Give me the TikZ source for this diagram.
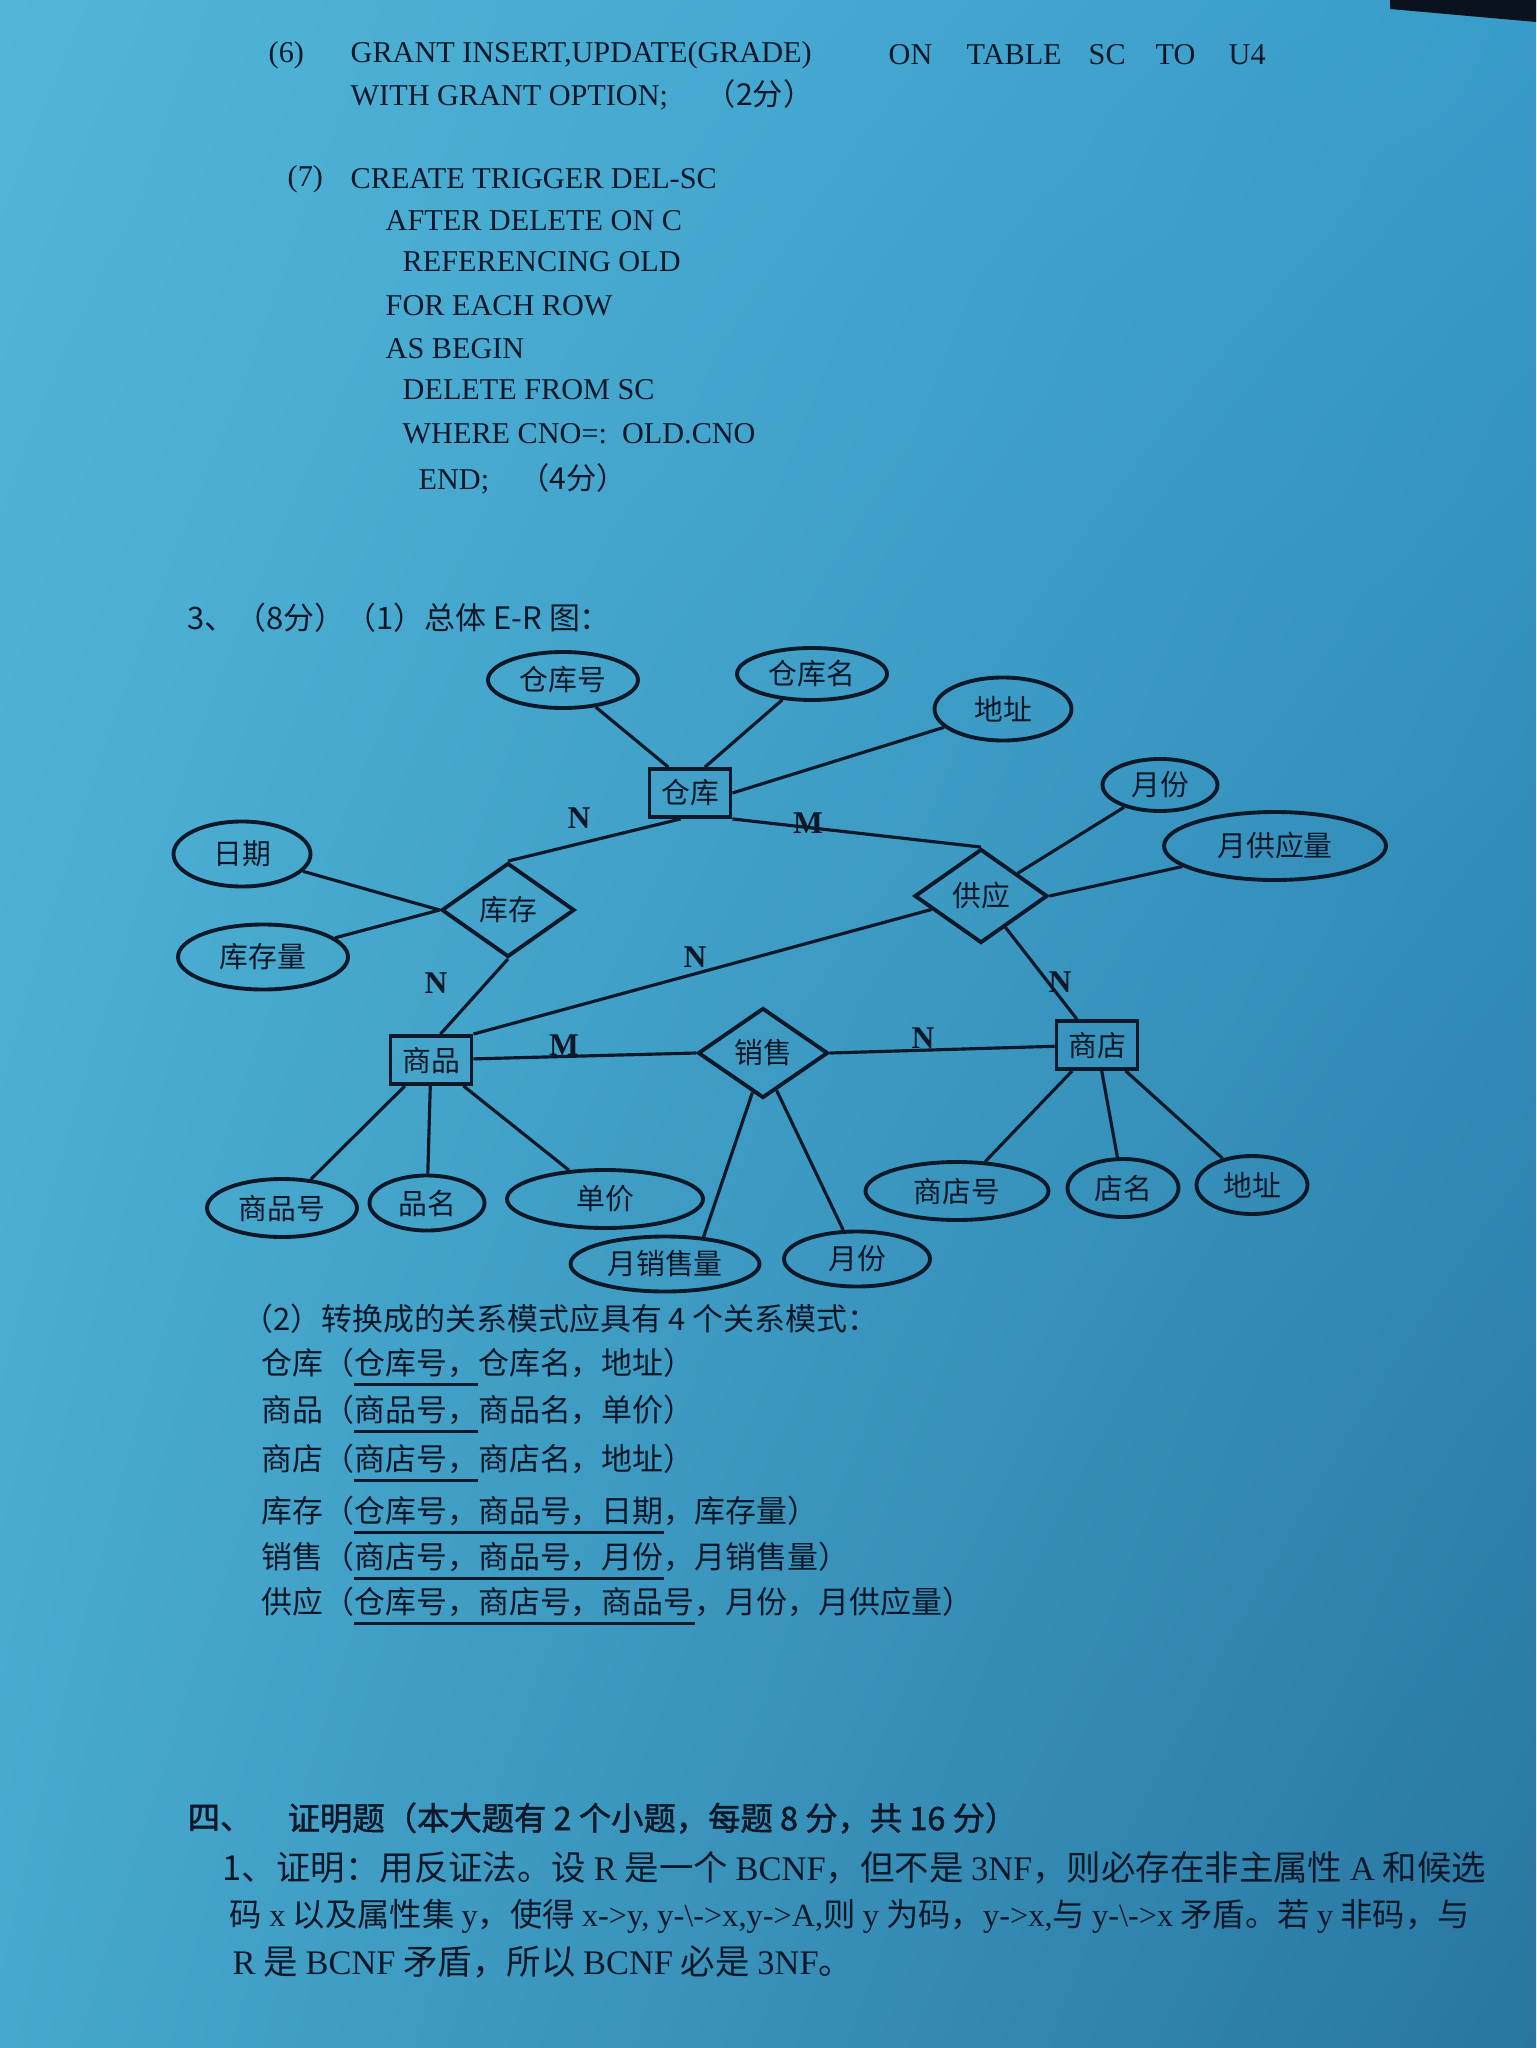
\documentclass[tikz,border=0pt]{standalone}
\usepackage{fontspec}
\setmainfont{Liberation Serif}
\newfontfamily\cjk{Noto Sans CJK SC}
\newfontfamily\cjkbf[FakeBold=1.5]{Noto Sans CJK SC}
\usetikzlibrary{shapes.geometric,shadings}
\definecolor{inkc}{RGB}{14,24,40}
\definecolor{paperul}{RGB}{82,182,216}
\definecolor{paperur}{RGB}{56,156,202}
\definecolor{paperll}{RGB}{70,168,206}
\definecolor{paperlr}{RGB}{40,118,160}
\definecolor{edgedark}{RGB}{10,18,30}
% key underline, a bit heavier than \underline
\newcommand\keyul[1]{\setbox0\hbox{#1}\rlap{\rule[-3.2pt]{\wd0}{0.8pt}}\box0}
\newcommand\lat[1]{{\rmfamily #1}}

\begin{document}
\begin{tikzpicture}[
    x=0.1mm, y=-0.1mm,
    code/.style={anchor=west, inner sep=0, text=inkc, font=\fontsize{8.6}{10}\selectfont},
    zh/.style={anchor=west, inner sep=0, text=inkc, font=\cjk\fontsize{8.8}{10}\selectfont},
    proof/.style={anchor=west, inner sep=0, text=inkc, font=\cjk\fontsize{9.8}{11}\selectfont},
    entity/.style={draw=inkc, line width=1.1pt, rectangle, inner sep=0,
        minimum width=8.1mm, minimum height=4.8mm, text=inkc, font=\cjk\fontsize{8.2}{9}\selectfont},
    rel/.style={draw=inkc, line width=1.1pt, diamond, inner sep=0,
        minimum width=13.3mm, minimum height=9.4mm, text=inkc, font=\cjk\fontsize{8.2}{9}\selectfont},
    attr/.style={draw=inkc, line width=1.1pt, ellipse, inner sep=0,
        minimum width=15mm, minimum height=5.6mm, text=inkc, font=\cjk\fontsize{8.2}{9}\selectfont},
    card/.style={inner sep=0, text=inkc, font=\bfseries\fontsize{9}{9}\selectfont},
    link/.style={draw=inkc, line width=0.9pt}
]
\useasboundingbox (0,0) rectangle (1536,2048);
\shade[upper left=paperul, upper right=paperur, lower left=paperll, lower right=paperlr]
    (0,0) rectangle (1536,2048);
\fill[edgedark] (1390,0) -- (1536,0) -- (1536,22) -- (1390,9) -- cycle;

% SQL answers
\node[code] (q6)   at (268,55)  {(6)};
\node[code] (q6a)  at (350,55)  {GRANT INSERT,UPDATE(GRADE)};
\node[code] (q6b)  at (888,55)  {ON};
\node[code] (q6c)  at (966,55)  {TABLE};
\node[code] (q6d)  at (1088,55) {SC};
\node[code] (q6e)  at (1155,55) {TO};
\node[code] (q6f)  at (1228,55) {U4};
\node[code] (q6g)  at (350,95)  {WITH GRANT OPTION;\quad\ {\cjk （2分）}};
\node[code] (q7)   at (287,179) {(7)};
\node[code] (q7a)  at (350,179) {CREATE TRIGGER DEL-SC};
\node[code] (q7b)  at (385,221) {AFTER DELETE ON C};
\node[code] (q7c)  at (402,262) {REFERENCING OLD};
\node[code] (q7d)  at (385,306) {FOR EACH ROW};
\node[code] (q7e)  at (385,349) {AS BEGIN};
\node[code] (q7f)  at (402,390) {DELETE FROM SC};
\node[code] (q7g)  at (402,434) {WHERE CNO=:\enspace OLD.CNO};
\node[code] (q7h)  at (418,479) {END;\quad{\cjk （4分）}};

\node[zh] (q3) at (187,618) {3、（8分）（1）总体 E-R 图：};

% E-R diagram
\node[entity] (ck) at (690,793)  {仓库};
\node[entity] (sp) at (431,1060) {商品};
\node[entity] (sd) at (1097,1045) {商店};

\node[rel] (kc) at (508,910)  {库存};
\node[rel] (gy) at (981,896)  {供应};
\node[rel, minimum width=13mm, minimum height=9mm] (xs) at (763,1053) {销售};

\node[attr] (ckh)  at (563,680)  {仓库号};
\node[attr, minimum height=5.2mm] (ckm) at (812,674) {仓库名};
\node[attr, minimum width=13.7mm, minimum height=6.3mm] (ckdz) at (1003,709) {地址};
\node[attr, minimum width=11.5mm, minimum height=5.2mm] (yf1) at (1160,785) {月份};
\node[attr, minimum width=22.2mm, minimum height=6.8mm] (ygyl) at (1275,846) {月供应量};
\node[attr, minimum width=13.7mm, minimum height=6.5mm] (rq) at (242,854) {日期};
\node[attr, minimum width=17mm, minimum height=6.5mm] (kcl) at (263,957) {库存量};
\node[attr, minimum height=5.8mm] (sph) at (282,1208) {商品号};
\node[attr, minimum width=11.5mm, minimum height=5.5mm] (pm) at (427,1203) {品名};
\node[attr, minimum width=19.6mm, minimum height=5.8mm] (dj) at (605,1199) {单价};
\node[attr, minimum width=18.3mm, minimum height=5.8mm] (sdh) at (957,1191) {商店号};
\node[attr, minimum width=11.1mm, minimum height=5.8mm] (dm) at (1123,1188) {店名};
\node[attr, minimum width=11.1mm, minimum height=5.8mm] (sddz) at (1252,1185) {地址};
\node[attr, minimum width=18.9mm, minimum height=5.5mm] (yxsl) at (665,1264) {月销售量};
\node[attr, minimum width=14.6mm, minimum height=5.5mm] (yf2) at (857,1259) {月份};

\draw[link] (ckh) -- (ck.130);
\draw[link] (ckm) -- (ck.60);
\draw[link] (ckdz) -- (ck.east);
\draw[link] (ck.250) -- (kc.north);
\draw[link] (ck.south east) -- (gy.north);
\draw[link] (rq) -- (kc.west);
\draw[link] (kcl) -- (kc.west);
\draw[link] (kc.south) -- (sp.70);
\draw[link] (gy) -- (sp.north east);
\draw[link] (gy) -- (sd);
\draw[link] (yf1) -- (gy);
\draw[link] (ygyl) -- (gy.east);
\draw[link] (sp) -- (xs.west);
\draw[link] (xs.east) -- (sd);
\draw[link] (sp) -- (sph);
\draw[link] (sp) -- (pm);
\draw[link] (sp) -- (dj);
\draw[link] (xs.255) -- (yxsl.35);
\draw[link] (xs.290) -- (yf2);
\draw[link] (sd) -- (sdh);
\draw[link] (sd) -- (dm);
\draw[link] (sd) -- (sddz);

\node[card] (n1) at (579,818)  {N};
\node[card] (m1) at (808,823)  {M};
\node[card] (n2) at (436,983)  {N};
\node[card] (n3) at (695,957)  {N};
\node[card] (n4) at (1060,982) {N};
\node[card] (m2) at (564,1045) {M};
\node[card] (n5) at (923,1038) {N};

% relation schemas
\node[zh] (r0) at (242,1319) {（2）转换成的关系模式应具有 4 个关系模式：};
\node[zh] (r1) at (261,1367) {仓库（\keyul{仓库号，}仓库名，地址）};
\node[zh] (r2) at (261,1414) {商品（\keyul{商品号，}商品名，单价）};
\node[zh] (r3) at (261,1463) {商店（\keyul{商店号，}商店名，地址）};
\node[zh] (r4) at (261,1515) {库存（\keyul{仓库号，商品号，日期}，库存量）};
\node[zh] (r5) at (261,1561) {销售（\keyul{商店号，商品号，月份}，月销售量）};
\node[zh] (r6) at (261,1606) {供应（\keyul{仓库号，商店号，商品号}，月份，月供应量）};

% proof
\node[proof, font=\cjkbf\fontsize{9.2}{11}\selectfont] (p0) at (187,1818) {四、};
\node[proof, font=\cjkbf\fontsize{9.2}{11}\selectfont] (p0a) at (287,1818) {证明题（本大题有 2 个小题，每题 8 分，共 16 分）};
\node[proof] (p1) at (222,1868) {1、证明：用反证法。设 \lat{R} 是一个 \lat{BCNF}，但不是 \lat{3NF}，则必存在非主属性 \lat{A} 和候选};
\node[proof, font=\cjk\fontsize{9.2}{11}\selectfont] (p2) at (229,1916) {码 \lat{x} 以及属性集 \lat{y}，使得 \lat{x->y, y-\textbackslash->x,y->A,}则 \lat{y} 为码，\lat{y->x,}与 \lat{y-\textbackslash->x} 矛盾。若 \lat{y} 非码，与};
\node[proof] (p3) at (232,1962) {\lat{R} 是 \lat{BCNF} 矛盾，所以 \lat{BCNF} 必是 \lat{3NF}。};
\end{tikzpicture}
\end{document}
